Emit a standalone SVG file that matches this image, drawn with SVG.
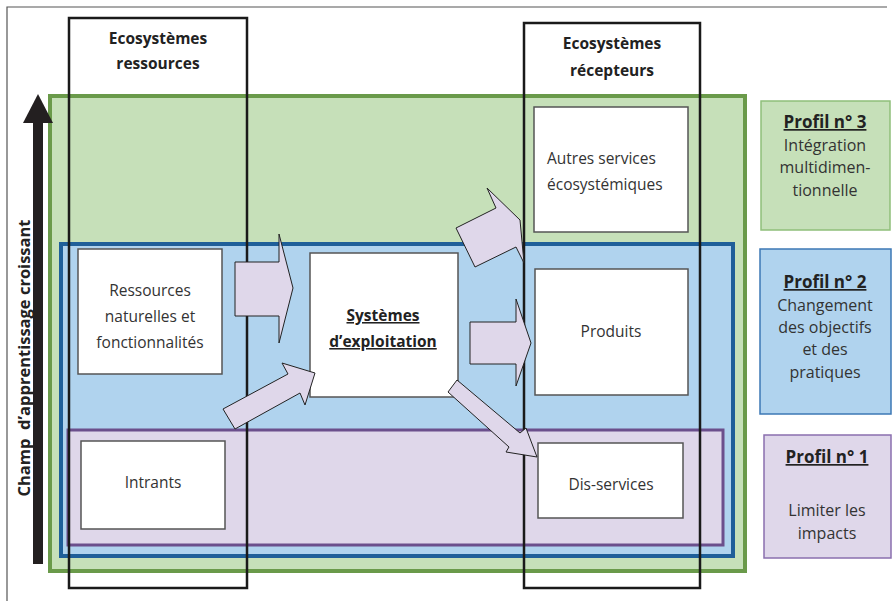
<svg xmlns="http://www.w3.org/2000/svg" width="892" height="601" viewBox="0 0 892 601">
<style>
text{font-family:"Open Sans","Liberation Sans",sans-serif;fill:#333;}
.t{font-size:15.5px;text-anchor:middle;}
.p{font-size:16px;text-anchor:middle;}
.b{font-size:15.5px;font-weight:bold;text-anchor:middle;fill:#222;}
.pb{font-size:17px;font-weight:bold;text-anchor:middle;fill:#222;text-decoration:underline;}
.u{text-decoration:underline;}
.box{fill:#fff;stroke:#555;stroke-width:1.5;}
.col{fill:none;stroke:#1a1a1a;stroke-width:2.5;}
.arr{fill:#dfd7ea;stroke:#222;stroke-width:1;stroke-linejoin:miter;}
</style>
<rect width="892" height="601" fill="#fff"/>
<path d="M887,7 H7 V601" fill="none" stroke="#555" stroke-width="1.2"/>

<g id="zone-profil3"><rect x="50" y="96" width="695" height="475" fill="#c6e0b9" stroke="#6a9a4a" stroke-width="4"/></g>
<g id="zone-profil2"><rect x="61" y="244" width="672" height="312" fill="#b0d3ee" stroke="#1f5f99" stroke-width="4"/></g>
<g id="zone-profil1"><rect x="68" y="430" width="655" height="115" fill="#dfd7ea" stroke="#6b4f8c" stroke-width="3"/></g>

<g id="axis">
<rect x="33" y="122" width="10" height="442" fill="#231f20"/>
<polygon points="38,94 53,123 23,123" fill="#231f20"/>
<text transform="translate(30,358) rotate(-90)" style="font-size:16.5px;font-weight:bold;text-anchor:middle;fill:#222;white-space:pre">Champ  d’apprentissage croissant</text>
</g>

<g id="ressources"><rect class="box" x="78" y="249" width="144" height="125"/>
<text class="t" x="150" y="296">Ressources</text><text class="t" x="150" y="322">naturelles et</text><text class="t" x="150" y="348">fonctionnalités</text></g>
<g id="intrants"><rect class="box" x="81" y="441" width="144" height="88"/>
<text class="t" x="153" y="488">Intrants</text></g>
<g id="systemes"><rect class="box" x="310" y="253" width="148" height="144"/>
<text class="b u" x="383" y="321">Systèmes</text><text class="b u" x="383" y="347">d’exploitation</text></g>
<g id="autres"><rect class="box" x="534" y="107" width="154" height="125"/>
<text class="t" x="547" y="164" style="text-anchor:start">Autres services</text><text class="t" x="547" y="190" style="text-anchor:start">écosystémiques</text></g>
<g id="produits"><rect class="box" x="535" y="269" width="153" height="126"/>
<text class="t" x="611" y="337">Produits</text></g>
<g id="disservices"><rect class="box" x="538" y="443" width="145" height="75"/>
<text class="t" x="611" y="490">Dis-services</text></g>

<g id="col-ressources"><rect class="col" x="69" y="18" width="178" height="570"/>
<text class="b" x="158" y="44">Ecosystèmes</text><text class="b" x="158" y="69">ressources</text></g>
<g id="col-recepteurs"><rect class="col" x="524" y="23" width="176" height="565"/>
<text class="b" x="612" y="49">Ecosystèmes</text><text class="b" x="612" y="76">récepteurs</text></g>

<g id="connectors">
<polygon class="arr" points="235,262 279,262 279,234 293,288 279,343 279,316 235,316"/>
<polygon class="arr" points="223,409 288,374 282,363 315,373 305,405 300,393 235,429"/>
<polygon class="arr" points="456,228 496,208 487,188 520,220 524,263 516,247 475,267"/>
<polygon class="arr" points="470,322 516,322 516,299 531,343 516,386 516,364 470,364"/>
<polygon class="arr" points="457,380 520,433 526,428 537,457 506,452 509,447 448,392"/>
</g>

<g id="profil3"><rect x="761" y="101" width="129" height="129" fill="#c6e0b9" stroke="#8fbf7a" stroke-width="1.5"/>
<text class="pb" x="825" y="128">Profil n° 3</text>
<text class="p" x="825" y="151">Intégration</text><text class="p" x="825" y="173">multidimen-</text><text class="p" x="825" y="196">tionnelle</text></g>
<g id="profil2"><rect x="760" y="249" width="131" height="165" fill="#b0d3ee" stroke="#3d78b5" stroke-width="1.5"/>
<text class="pb" x="825" y="288">Profil n° 2</text>
<text class="p" x="825" y="311">Changement</text><text class="p" x="825" y="333">des objectifs</text><text class="p" x="825" y="355">et des</text><text class="p" x="825" y="378">pratiques</text></g>
<g id="profil1"><rect x="764" y="435" width="127" height="123" fill="#dfd7ea" stroke="#8a6fae" stroke-width="1.5"/>
<text class="pb" x="827" y="463">Profil n° 1</text>
<text class="p" x="827" y="516">Limiter les</text><text class="p" x="827" y="539">impacts</text></g>
</svg>
